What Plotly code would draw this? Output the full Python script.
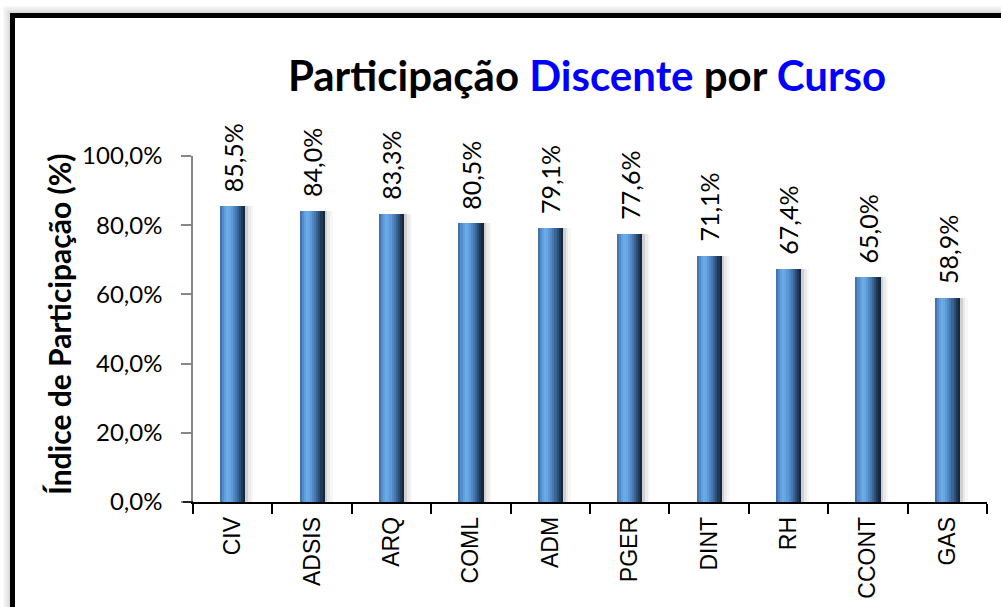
import plotly.graph_objects as go

cursos = ["CIV", "ADSIS", "ARQ", "COML", "ADM", "PGER", "DINT", "RH", "CCONT", "GAS"]
participacao = [85.5, 84.0, 83.3, 80.5, 79.1, 77.6, 71.1, 67.4, 65.0, 58.9]
y_ticks = [0, 20, 40, 60, 80, 100]
y_tick_labels = ["0,0%", "20,0%", "40,0%", "60,0%", "80,0%", "100,0%"]
rotulos = [f"{v:.1f}%".replace(".", ",") for v in participacao]

W, H = 1001, 607
L, R, T, B = 193, 14, 156, 105
pw, ph = W - L - R, H - T - B

fig = go.Figure()

bar_w = 0.315
shadow = [(0.0, 0.035, "rgba(120,120,120,0.35)"), (0.035, 0.07, "rgba(150,150,150,0.2)"), (0.07, 0.10, "rgba(180,180,180,0.1)")]
for a, b, c in shadow:
    fig.add_trace(go.Bar(x=cursos, y=participacao, width=b - a, offset=bar_w / 2 + a,
                         marker=dict(color=c, line=dict(width=0)), hoverinfo="skip", showlegend=False))

strip_colors = ["#4373ad", "#548dcc", "#62a0dc", "#6cace6", "#67a6e2", "#5d99d5", "#5289c5",
                "#4679b1", "#396595", "#2b4f77", "#1f3957", "#16293c"]
n = len(strip_colors)
for i, c in enumerate(strip_colors):
    fig.add_trace(go.Bar(x=cursos, y=participacao, width=bar_w / n + 0.002,
                         offset=-bar_w / 2 + i * bar_w / n,
                         marker=dict(color=c, line=dict(width=0)), hoverinfo="skip", showlegend=False))

for cat, val, txt in zip(cursos, participacao, rotulos):
    fig.add_annotation(x=cat, y=val, text=txt, textangle=-90, showarrow=False,
                       xanchor="center", yanchor="bottom", yshift=12,
                       font=dict(family="Lato, sans-serif", size=25, color="black"))


def px_to_paper_x(px):
    return (px - L) / pw


def py_to_paper_y(py):
    return (H - B - py) / ph


# y-axis title
fig.add_annotation(xref="paper", yref="paper", x=px_to_paper_x(59), y=py_to_paper_y(324),
                   text="<b>Índice de Participação (%)</b>", textangle=-90, showarrow=False,
                   xanchor="center", yanchor="middle",
                   font=dict(family="Lato, sans-serif", size=30, color="black"))

shapes = []
for k, op in [(4, 0.05), (3, 0.08), (2, 0.12), (1, 0.18)]:
    shapes.append(dict(type="rect", xref="paper", yref="paper",
                       x0=px_to_paper_x(12.5 - k * 2), x1=px_to_paper_x(1100),
                       y0=py_to_paper_y(700), y1=py_to_paper_y(15.5 - k * 2),
                       line=dict(color=f"rgba(0,0,0,{op})", width=2), layer="below"))
shapes.append(dict(type="rect", xref="paper", yref="paper",
                   x0=px_to_paper_x(12.5), x1=px_to_paper_x(1100),
                   y0=py_to_paper_y(700), y1=py_to_paper_y(15.5),
                   line=dict(color="black", width=5), fillcolor="white", layer="below"))
shapes.append(dict(type="line", xref="paper", yref="paper",
                   x0=px_to_paper_x(183), x1=0, y0=0, y1=0,
                   line=dict(color="black", width=1.5)))

fig.update_layout(
    width=W, height=H,
    margin=dict(l=L, r=R, t=T, b=B, autoexpand=False),
    paper_bgcolor="white", plot_bgcolor="rgba(0,0,0,0)",
    barmode="overlay",
    bargap=0,
    shapes=shapes,
    showlegend=False,
    title=dict(
        text="<b>Participação <span style='color:#0000ff'>Discente</span> por <span style='color:#0000ff'>Curso</span></b>",
        x=px_to_paper_x(587), xref="paper", xanchor="center",
        y=1 - 76 / H, yref="container", yanchor="middle",
        font=dict(family="Lato, sans-serif", size=42, color="black"),
    ),
    yaxis=dict(
        range=[0, 100], tickvals=y_ticks, ticktext=y_tick_labels,
        showgrid=False, zeroline=False, automargin=False,
        showline=True, linecolor="#868686", linewidth=1.5,
        ticks="outside", ticklen=10, tickcolor="#868686", tickwidth=1.5,
        ticklabelstandoff=14,
        tickfont=dict(family="Lato, sans-serif", size=24, color="black"),
    ),
    xaxis=dict(
        showgrid=False, zeroline=False, automargin=False,
        showline=True, linecolor="black", linewidth=1.5,
        ticks="outside", ticklen=10, tickcolor="black", tickwidth=1.5,
        tickson="boundaries",
        tickangle=-90,
        ticklabelstandoff=4,
        tickfont=dict(family="Liberation Sans, Arial, sans-serif", size=23, color="black"),
        range=[-0.5, 9.5],
    ),
)

fig.write_html("out.html", config={"displayModeBar": False},
               post_script="document.body.style.margin='0';document.body.style.overflow='hidden';")
